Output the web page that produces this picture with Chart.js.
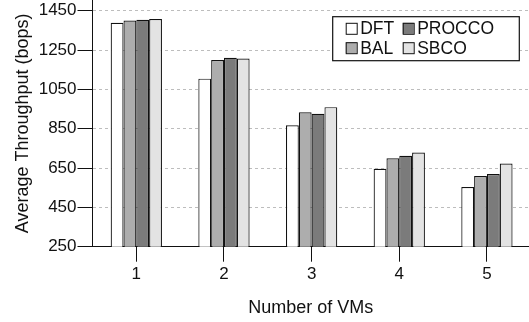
<!DOCTYPE html>
<html>
<head>
<meta charset="utf-8">
<script src="https://cdn.jsdelivr.net/npm/chart.js@4/dist/chart.umd.min.js"></script>
<style>
  html, body { margin: 0; padding: 0; background: #fff; }
  #wrap { width: 529px; height: 322px; }
</style>
</head>
<body>
<div id="wrap"><canvas id="c" width="529" height="322"></canvas></div>
<script>
// ---- data ----
const categories = ['1', '2', '3', '4', '5'];
const seriesNames = ['DFT', 'BAL', 'PROCCO', 'SBCO'];
const dftValues    = [1389, 1105, 868, 646, 554];
const balValues    = [1401, 1200, 934, 700, 610];
const proccoValues = [1404, 1211, 926, 713, 620];
const sbcoValues   = [1408, 1207, 960, 729, 673];
const yTicks = [250, 450, 650, 850, 1050, 1250, 1450];

const seriesValues = [dftValues, balValues, proccoValues, sbcoValues];
const seriesColors = ['#ffffff', '#adadad', '#7b7b7b', '#e3e3e3'];

const FONT = "'Liberation Sans', Arial, Helvetica, sans-serif";
const TEXT = '#111';

const datasets = seriesNames.map((name, s) => ({
  label: name,
  data: seriesValues[s].map((v, i) => ({ x: i + 1, y: v })),
  backgroundColor: seriesColors[s],
  borderColor: '#111',
  borderWidth: 1.2,
  borderSkipped: false,
  inflateAmount: 0,
  barPercentage: 1,
  categoryPercentage: 0.585
}));

const boxLegend = {
  id: 'boxLegend',
  afterDraw(chart) {
    const ctx = chart.ctx;
    const area = chart.chartArea;
    const bw = 186.6, bh = 44;
    const bx = area.right - 9.7 - bw;
    const by = area.top + 16.7;
    ctx.save();
    ctx.fillStyle = '#fff';
    ctx.fillRect(bx, by, bw, bh);
    ctx.strokeStyle = '#111';
    ctx.lineWidth = 1.2;
    ctx.strokeRect(bx, by, bw, bh);
    ctx.font = '17.5px ' + FONT;
    ctx.textBaseline = 'middle';
    ctx.textAlign = 'left';
    const ds = chart.data.datasets;
    // column-major order: col0 = DFT, BAL ; col1 = PROCCO, SBCO
    const rows = 2;
    const sq = 11;
    const colX = [bx + 13, bx + 70];
    const rowY = [by + 11.6, by + 31];
    ds.forEach((d, i) => {
      const col = Math.floor(i / rows);
      const row = i % rows;
      const x = colX[col];
      const y = rowY[row];
      ctx.fillStyle = d.backgroundColor;
      ctx.fillRect(x, y - sq / 2, sq, sq);
      ctx.strokeStyle = '#111';
      ctx.lineWidth = 1;
      ctx.strokeRect(x + 0.5, y - sq / 2 + 0.5, sq, sq);
      ctx.fillStyle = TEXT;
      ctx.fillText(d.label, x + 14.5, y + 1);
    });
    ctx.restore();
  }
};

new Chart(document.getElementById('c'), {
  type: 'bar',
  data: { datasets },
  plugins: [boxLegend],
  options: {
    responsive: false,
    animation: false,
    devicePixelRatio: 1,
    layout: { padding: { left: 0, right: 0, top: 0, bottom: 0 } },
    plugins: { legend: { display: false }, tooltip: { enabled: false } },
    scales: {
      x: {
        type: 'linear',
        offset: false,
        min: 0.5,
        max: 5.48,
        afterBuildTicks(scale) { scale.ticks = categories.map((c, i) => ({ value: i + 1 })); },
        afterFit(scale) { scale.paddingLeft = 0; scale.paddingRight = 0; scale.height = 75.3; },
        grid: { offset: false, drawOnChartArea: false, color: '#111', tickColor: '#111', tickLength: 15, lineWidth: 1 },
        border: { display: true, color: '#111', width: 1 },
        ticks: {
          padding: 2,
          font: { family: FONT, size: 17 },
          color: TEXT,
          maxRotation: 0,
          callback: (v) => categories[Math.round(v) - 1]
        },
        title: {
          display: true,
          text: 'Number of VMs',
          font: { family: FONT, size: 18 },
          color: TEXT,
          padding: { top: 0, bottom: 3 }
        }
      },
      y: {
        min: 250,
        max: 1505,
        afterBuildTicks(scale) { scale.ticks = yTicks.map(v => ({ value: v })); },
        afterFit(scale) { scale.width = 92.5; scale.paddingTop = 0; scale.paddingBottom = 0; },
        grid: {
          drawOnChartArea: true,
          color: '#bdbdbd',
          lineWidth: 1,
          tickColor: '#111',
          tickLength: 15,
          tickBorderDash: []
        },
        border: { display: true, color: '#111', width: 1, dash: [3, 3] },
        ticks: {
          padding: 1,
          font: { family: FONT, size: 17 },
          color: TEXT,
          callback: (v) => String(v)
        },
        title: {
          display: true,
          text: 'Average Throughput (bops)',
          font: { family: FONT, size: 18 },
          color: TEXT,
          padding: { top: 12, bottom: 0 }
        }
      }
    }
  }
});
</script>
</body>
</html>
